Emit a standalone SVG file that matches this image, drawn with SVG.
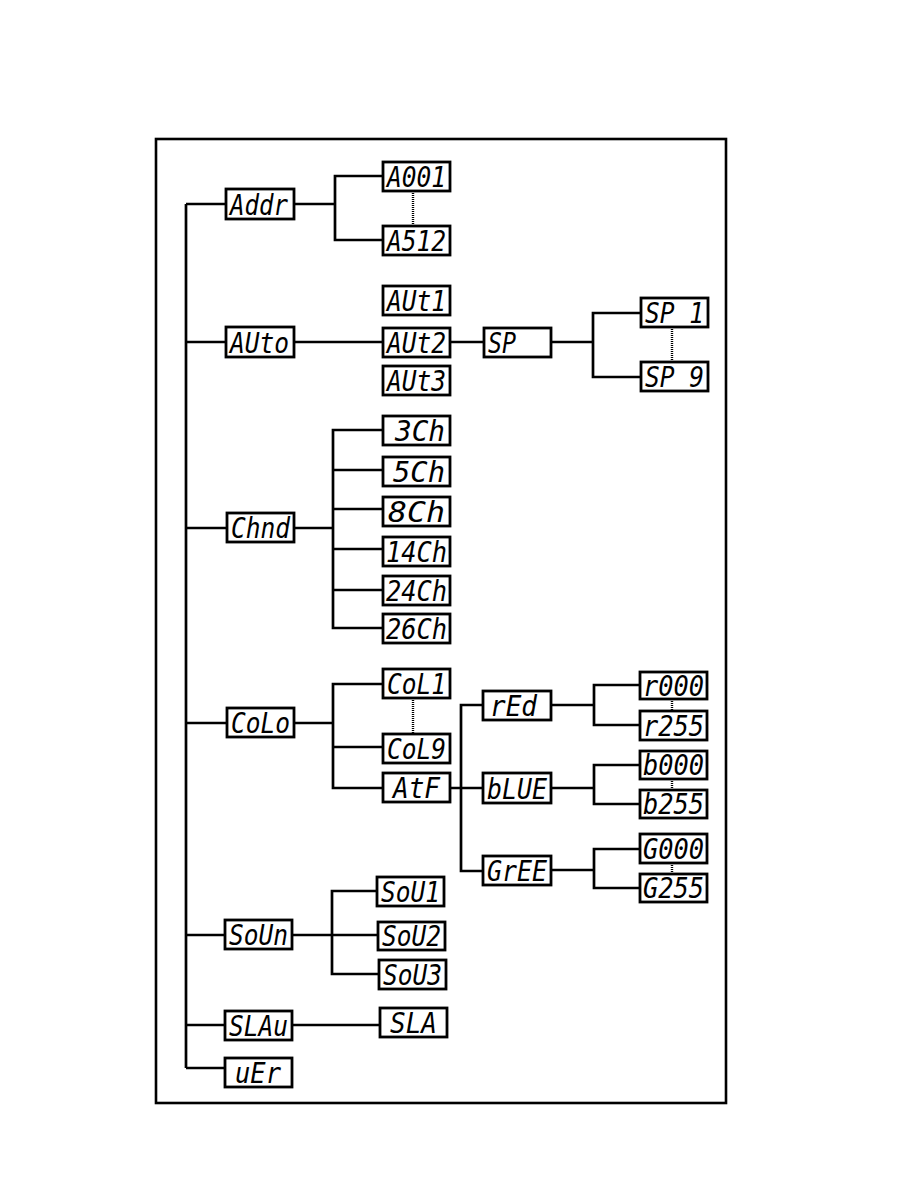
<svg xmlns="http://www.w3.org/2000/svg" width="918" height="1188" viewBox="0 0 918 1188">
<style>
.b{fill:#fff;stroke:#000;stroke-width:2.8}
.c{fill:none;stroke:#000;stroke-width:2.7}
.d{fill:none;stroke:#000;stroke-width:2.4;stroke-dasharray:1 1}
.t{font-family:"DejaVu Sans Mono",monospace;font-style:italic;font-size:29px;fill:#000}
</style>
<rect x="156" y="139" width="570" height="964" fill="none" stroke="#000" stroke-width="2.6"/>
<g id="connectors">
<path class="c" d="M186 204 V1068 M186 204 H226 M186 342 H226 M186 528 H227 M186 723 H227 M186 935 H225 M186 1025 H225 M186 1068 H225"/>
<path class="c" d="M294 204 H335 M383 176 H335 V240 H383"/>
<path class="d" d="M413 191 V226"/>
<path class="c" d="M294 342 H383 M450 342 H484 M551 342 H593 M641 313 H593 V377 H641"/>
<path class="d" d="M672 327 V362"/>
<path class="c" d="M294 528 H333 M383 430 H333 V628 H383 M333 470 H383 M333 509 H383 M333 549 H383 M333 590 H383"/>
<path class="c" d="M294 723 H333 M383 684 H333 V788 H383 M333 747 H383"/>
<path class="d" d="M413 698 V734"/>
<path class="c" d="M450 788 H461 M483 705 H461 V871 H483 M461 788 H483"/>
<path class="c" d="M551 705 H594 M640 685 H594 V725 H640"/>
<path class="d" d="M672 699 V711"/>
<path class="c" d="M551 788 H594 M640 765 H594 V804 H640"/>
<path class="d" d="M672 779 V790"/>
<path class="c" d="M551 870 H594 M640 849 H594 V888 H640"/>
<path class="d" d="M672 863 V874"/>
<path class="c" d="M292 935 H378 M377 891 H332 V974 H379"/>
<path class="c" d="M292 1025 H380"/>
</g>
<g id="addr"><rect class="b" x="226" y="189" width="68" height="30"/><text class="t" x="230" y="215" textLength="58" lengthAdjust="spacingAndGlyphs">Addr</text></g>
<g id="a001"><rect class="b" x="383" y="162" width="67" height="29"/><text class="t" x="387" y="187" textLength="59" lengthAdjust="spacingAndGlyphs">A001</text></g>
<g id="a512"><rect class="b" x="383" y="226" width="67" height="29"/><text class="t" x="387" y="251" textLength="59" lengthAdjust="spacingAndGlyphs">A512</text></g>
<g id="auto"><rect class="b" x="226" y="327" width="68" height="30"/><text class="t" x="230" y="353" textLength="59" lengthAdjust="spacingAndGlyphs">AUto</text></g>
<g id="aut1"><rect class="b" x="383" y="286" width="67" height="29"/><text class="t" x="387" y="311" textLength="59" lengthAdjust="spacingAndGlyphs">AUt1</text></g>
<g id="aut2"><rect class="b" x="383" y="328" width="67" height="29"/><text class="t" x="387" y="353" textLength="59" lengthAdjust="spacingAndGlyphs">AUt2</text></g>
<g id="aut3"><rect class="b" x="383" y="366" width="67" height="29"/><text class="t" x="387" y="391" textLength="59" lengthAdjust="spacingAndGlyphs">AUt3</text></g>
<g id="sp"><rect class="b" x="484" y="328" width="67" height="29"/><text class="t" x="488" y="353" textLength="28" lengthAdjust="spacingAndGlyphs">SP</text></g>
<g id="sp1"><rect class="b" x="641" y="298" width="67" height="29"/><text class="t" x="645" y="323" textLength="59" lengthAdjust="spacingAndGlyphs" xml:space="preserve">SP 1</text></g>
<g id="sp9"><rect class="b" x="641" y="362" width="67" height="29"/><text class="t" x="645" y="387" textLength="59" lengthAdjust="spacingAndGlyphs" xml:space="preserve">SP 9</text></g>
<g id="chnd"><rect class="b" x="227" y="513" width="67" height="29"/><text class="t" x="231" y="538" textLength="59" lengthAdjust="spacingAndGlyphs">Chnd</text></g>
<g id="ch3"><rect class="b" x="383" y="416" width="67" height="29"/><text class="t" x="395" y="441" textLength="50" lengthAdjust="spacingAndGlyphs">3Ch</text></g>
<g id="ch5"><rect class="b" x="383" y="457" width="67" height="29"/><text class="t" x="393" y="482" textLength="52" lengthAdjust="spacingAndGlyphs">5Ch</text></g>
<g id="ch8"><rect class="b" x="383" y="497" width="67" height="29"/><text class="t" x="388" y="522" textLength="57" lengthAdjust="spacingAndGlyphs">8Ch</text></g>
<g id="ch14"><rect class="b" x="383" y="537" width="67" height="29"/><text class="t" x="386" y="562" textLength="61" lengthAdjust="spacingAndGlyphs">14Ch</text></g>
<g id="ch24"><rect class="b" x="383" y="576" width="67" height="29"/><text class="t" x="386" y="601" textLength="61" lengthAdjust="spacingAndGlyphs">24Ch</text></g>
<g id="ch26"><rect class="b" x="383" y="614" width="67" height="29"/><text class="t" x="386" y="639" textLength="61" lengthAdjust="spacingAndGlyphs">26Ch</text></g>
<g id="colo"><rect class="b" x="227" y="708" width="67" height="29"/><text class="t" x="231" y="733" textLength="59" lengthAdjust="spacingAndGlyphs">CoLo</text></g>
<g id="col1"><rect class="b" x="383" y="669" width="67" height="29"/><text class="t" x="387" y="694" textLength="59" lengthAdjust="spacingAndGlyphs">CoL1</text></g>
<g id="col9"><rect class="b" x="383" y="734" width="67" height="29"/><text class="t" x="387" y="759" textLength="59" lengthAdjust="spacingAndGlyphs">CoL9</text></g>
<g id="atf"><rect class="b" x="383" y="773" width="67" height="29"/><text class="t" x="393" y="798" textLength="47" lengthAdjust="spacingAndGlyphs">AtF</text></g>
<g id="red"><rect class="b" x="483" y="691" width="68" height="29"/><text class="t" x="490" y="716" textLength="47" lengthAdjust="spacingAndGlyphs">rEd</text></g>
<g id="blue"><rect class="b" x="483" y="773" width="68" height="30"/><text class="t" x="487" y="799" textLength="60" lengthAdjust="spacingAndGlyphs">bLUE</text></g>
<g id="gree"><rect class="b" x="483" y="856" width="68" height="29"/><text class="t" x="487" y="881" textLength="60" lengthAdjust="spacingAndGlyphs">GrEE</text></g>
<g id="r000"><rect class="b" x="640" y="672" width="67" height="27"/><text class="t" x="643" y="696" textLength="61" lengthAdjust="spacingAndGlyphs">r000</text></g>
<g id="r255"><rect class="b" x="640" y="711" width="67" height="29"/><text class="t" x="643" y="736" textLength="61" lengthAdjust="spacingAndGlyphs">r255</text></g>
<g id="b000"><rect class="b" x="640" y="751" width="67" height="28"/><text class="t" x="643" y="775" textLength="61" lengthAdjust="spacingAndGlyphs">b000</text></g>
<g id="b255"><rect class="b" x="640" y="790" width="67" height="28"/><text class="t" x="643" y="814" textLength="61" lengthAdjust="spacingAndGlyphs">b255</text></g>
<g id="g000"><rect class="b" x="640" y="834" width="67" height="29"/><text class="t" x="643" y="859" textLength="61" lengthAdjust="spacingAndGlyphs">G000</text></g>
<g id="g255"><rect class="b" x="640" y="874" width="67" height="28"/><text class="t" x="643" y="898" textLength="61" lengthAdjust="spacingAndGlyphs">G255</text></g>
<g id="soun"><rect class="b" x="225" y="920" width="67" height="29"/><text class="t" x="229" y="945" textLength="59" lengthAdjust="spacingAndGlyphs">SoUn</text></g>
<g id="sou1"><rect class="b" x="377" y="877" width="67" height="29"/><text class="t" x="381" y="902" textLength="59" lengthAdjust="spacingAndGlyphs">SoU1</text></g>
<g id="sou2"><rect class="b" x="378" y="922" width="67" height="28"/><text class="t" x="382" y="946" textLength="59" lengthAdjust="spacingAndGlyphs">SoU2</text></g>
<g id="sou3"><rect class="b" x="379" y="960" width="67" height="29"/><text class="t" x="383" y="985" textLength="59" lengthAdjust="spacingAndGlyphs">SoU3</text></g>
<g id="slau"><rect class="b" x="225" y="1011" width="67" height="29"/><text class="t" x="229" y="1036" textLength="59" lengthAdjust="spacingAndGlyphs">SLAu</text></g>
<g id="sla"><rect class="b" x="380" y="1008" width="67" height="29"/><text class="t" x="390" y="1033" textLength="47" lengthAdjust="spacingAndGlyphs">SLA</text></g>
<g id="uer"><rect class="b" x="225" y="1058" width="67" height="29"/><text class="t" x="235" y="1083" textLength="46" lengthAdjust="spacingAndGlyphs">uEr</text></g>
</svg>
